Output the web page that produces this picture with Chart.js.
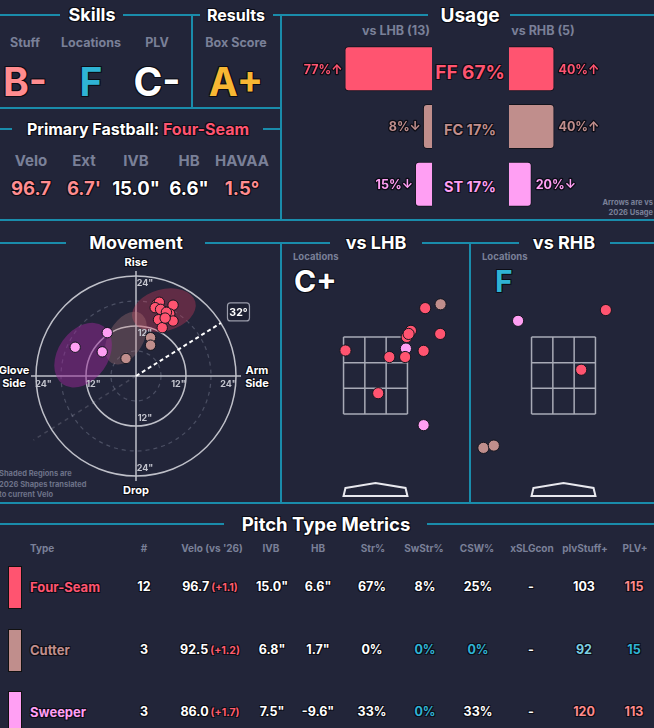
<!DOCTYPE html>
<html>
<head>
<meta charset="utf-8">
<script src="https://cdn.jsdelivr.net/npm/chart.js@4.4.1/dist/chart.umd.min.js"></script>
<style>
html, body { margin: 0; padding: 0; background: #222539; }
#board { position: relative; width: 654px; height: 728px; overflow: hidden; background: #222539;
  font-family: Inter, "Noto Sans", sans-serif; font-weight: 700; color: #fff; }
.t { position: absolute; white-space: nowrap; transform: translate(-50%, -50%); line-height: 1; }
.t.l { transform: translate(0, -50%); }
.t.r { transform: translate(-100%, -50%); }
.o { text-shadow: -1px -1px 0 #0c0d16, 1px -1px 0 #0c0d16, -1px 1px 0 #0c0d16, 1px 1px 0 #0c0d16; }
.hl { position: absolute; height: 2px; background: #1a8cab; }
.vl { position: absolute; width: 2px; background: #1a8cab; }
canvas { position: absolute; }
</style>
</head>
<body>
<div id="board"></div>
<script>
// ---- Skills / results
const skillLabels = ['Stuff', 'Locations', 'PLV'];
const skillGrades = ['B-', 'F', 'C-'];
const resultLabels = ['Box Score'];
const resultGrades = ['A+'];
const fbName = 'Four-Seam';
const fbLabels = ['Velo', 'Ext', 'IVB', 'HB', 'HAVAA'];
const fbValues = ['96.7', "6.7'", '15.0"', '6.6"', '1.5°'];

// ---- Usage (%)
const usagePitches = ['FF', 'FC', 'ST'];
const usageAll = [67, 17, 17];
const usageLHB = [77, 8, 15];
const usageRHB = [40, 40, 20];
const arrowLHB = ['↑', '↓', '↓'];
const arrowRHB = ['↑', '↑', '↓'];
const countLHB = 13;
const countRHB = 5;

// ---- Movement [HB, IVB] inches
const ffMove = [[5.0, 17.2], [5.6, 17.7], [4.6, 16.4], [6.6, 15.5], [5.9, 16.0], [8.9, 17.0],
  [8.1, 14.9], [5.4, 13.5], [8.9, 13.2], [6.3, 11.6], [7.3, 15.3], [7.0, 13.9]];
const fcMove = [[3.5, 9.2], [3.5, 7.4], [-2.4, 4.2]];
const stMove = [[-6.9, 10.4], [-14.6, 6.9], [-8.1, 5.8]];
const armAngle = 32;
// 2026 shape regions: [HB, IVB, semi-major, semi-minor, tilt deg]
const ffRegion = [6.7, 15.8, 7.8, 5.0, 15];
const fcRegion = [-2.4, 9.1, 6.9, 4.2, 60];
const stRegion = [-12.7, 5.0, 8.5, 6.0, 55];

// ---- Locations [plate x, plate z] ft
const lhbFF = [[1.29, 4.25], [0.92, 3.66], [0.81, 3.50], [0.86, 3.58], [1.68, 3.58], [-0.78, 3.15],
  [1.25, 3.14], [0.36, 2.98], [0.77, 2.98], [0.07, 2.04]];
const lhbFC = [[1.69, 4.35]];
const lhbST = [[0.79, 3.20], [1.25, 1.21]];
const rhbFF = [[1.10, 4.20], [0.46, 2.65]];
const rhbFC = [[-2.08, 0.62], [-1.81, 0.68]];
const rhbST = [[-1.18, 3.92]];
const locGradeLHB = 'C+';
const locGradeRHB = 'F';

// ---- Pitch type metrics
const tableCols = ['Type', '#', "Velo (vs '26)", 'IVB', 'HB', 'Str%', 'SwStr%', 'CSW%', 'xSLGcon', 'plvStuff+', 'PLV+'];
const pitchNames = ['Four-Seam', 'Cutter', 'Sweeper'];
const pitchCounts = [12, 3, 3];
const pitchVelo = ['96.7', '92.5', '86.0'];
const veloDiff = ['+1.1', '+1.2', '+1.7'];
const pitchIVB = ['15.0"', '6.8"', '7.5"'];
const pitchHB = ['6.6"', '1.7"', '-9.6"'];
const strPct = [67, 0, 33];
const swStrPct = [8, 0, 0];
const cswPct = [25, 0, 33];
const xslgcon = ['-', '-', '-'];
const plvStuff = [103, 92, 120];
const plvPlus = [115, 15, 113];

// ---- Styling
const pitchColors = ['#ff5470', '#c08e8c', '#ff9ff3'];
const gray = '#7a8098';
const salmon = '#ff8c8f';
const teal = '#2fb3d4';
const FONT = 'Inter, "Noto Sans", sans-serif';

const board = document.getElementById('board');

function txt(html, x, y, size, color, cls = '', extra = '') {
  const d = document.createElement('div');
  d.className = 't ' + cls;
  d.style.cssText = `left:${x}px;top:${y}px;font-size:${size}px;color:${color};${extra}`;
  d.innerHTML = html;
  board.appendChild(d);
  return d;
}
function hline(y, x1, x2) {
  const d = document.createElement('div');
  d.className = 'hl';
  d.style.cssText = `top:${y - 1}px;left:${x1}px;width:${x2 - x1}px`;
  board.appendChild(d);
}
function vline(x, y1, y2) {
  const d = document.createElement('div');
  d.className = 'vl';
  d.style.cssText = `left:${x - 1}px;top:${y1}px;height:${y2 - y1}px`;
  board.appendChild(d);
}
function makeCanvas(left, top, w, h) {
  const c = document.createElement('canvas');
  c.width = w; c.height = h;
  c.style.cssText = `left:${left}px;top:${top}px;width:${w}px;height:${h}px`;
  board.appendChild(c);
  return c;
}

// ---- Frame lines
hline(15, 0, 60); hline(15, 123, 200); hline(15, 273, 428); hline(15, 510, 654);
hline(108, 0, 281);
hline(129, 0, 12); hline(129, 263, 281);
hline(220, 0, 654);
hline(243, 0, 66); hline(243, 205, 330); hline(243, 422, 519); hline(243, 610, 654);
hline(503, 0, 654);
hline(524, 0, 224); hline(524, 427, 654);
vline(192, 15, 108);
vline(281, 15, 220); vline(281, 243, 503);
vline(470, 243, 503);

// ---- Top left text
txt('Skills', 92, 15, 18, '#fff', 'o');
txt('Results', 236, 15, 16, '#fff', 'o');
const skillX = [25, 91, 157];
const gradeCol = [salmon, teal, '#fff'];
skillLabels.forEach((s, i) => {
  txt(s, skillX[i], 43, 12.5, gray);
  txt(skillGrades[i], skillX[i], 81, 39, gradeCol[i], 'o');
});
txt(resultLabels[0], 236, 43, 12.5, gray);
txt(resultGrades[0], 236, 81, 39, '#f7b733', 'o');

txt(`Primary Fastball: <span style="color:${pitchColors[0]}">${fbName}</span>`, 138, 129, 16, '#fff', 'o');
const fbX = [31, 84, 136, 189, 242];
const fbCol = [salmon, salmon, '#fff', '#fff', salmon];
fbLabels.forEach((s, i) => {
  txt(s, fbX[i], 160, 15, gray);
  txt(fbValues[i], fbX[i], 188, 18.5, fbCol[i], 'o');
});

// ---- Usage text
txt('Usage', 470, 15, 19, '#fff', 'o');
txt(`vs LHB (${countLHB})`, 396, 31, 12.5, gray);
txt(`vs RHB (${countRHB})`, 543, 31, 12.5, gray);
const usageY = [72, 130, 187];
usagePitches.forEach((p, i) => {
  txt(`${p} ${usageAll[i]}%`, 470, usageY[i], i === 0 ? 19 : 14.5, pitchColors[i], 'o');
});
txt('Arrows are vs', 653, 203, 7.5, gray, 'r');
txt('2026 Usage', 653, 213, 7.5, gray, 'r');

function usageLabels(vals, arrows, side) {
  return {
    id: 'usageLabels' + side,
    afterDatasetsDraw(chart) {
      const ctx = chart.ctx;
      const meta = chart.getDatasetMeta(0);
      ctx.save();
      ctx.font = `700 12.5px ${FONT}`;
      ctx.textBaseline = 'middle';
      ctx.textAlign = side === 'L' ? 'right' : 'left';
      ctx.lineJoin = 'round';
      meta.data.forEach((bar, i) => {
        const x = side === 'L' ? bar.x - 2 : bar.x + 4;
        const s = vals[i] + '%' + arrows[i];
        ctx.lineWidth = 2.5;
        ctx.strokeStyle = '#0c0d16';
        ctx.strokeText(s, x, bar.y + 1);
        ctx.fillStyle = pitchColors[i];
        ctx.fillText(s, x, bar.y + 1);
      });
      ctx.restore();
    }
  };
}

function usageChart(canvas, vals, arrows, side) {
  return new Chart(canvas, {
    type: 'bar',
    data: {
      labels: usagePitches,
      datasets: [{
        data: vals,
        backgroundColor: pitchColors,
        borderColor: '#12131c',
        borderWidth: 1,
        borderRadius: 4,
        barPercentage: 0.78,
        categoryPercentage: 1
      }]
    },
    options: {
      indexAxis: 'y',
      responsive: false,
      animation: false,
      layout: { padding: 0, autoPadding: false },
      scales: {
        x: { display: false, min: 0, max: 125, reverse: side === 'L' },
        y: { display: false }
      },
      plugins: { legend: { display: false }, tooltip: { enabled: false } }
    },
    plugins: [usageLabels(vals, arrows, side)]
  });
}
usageChart(makeCanvas(290, 40, 142, 173), usageLHB, arrowLHB, 'L');
usageChart(makeCanvas(509, 40, 142, 173), usageRHB, arrowRHB, 'R');

// ---- Movement
txt('Movement', 136, 243, 18, '#fff', 'o');
txt('Rise', 136, 262, 11, '#fff', 'o');
txt('Drop', 136, 490, 11, '#fff', 'o');
txt('Glove', 14, 370, 11, '#fff', 'o');
txt('Side', 14, 383, 11, '#fff', 'o');
txt('Arm', 257, 370, 11, '#fff', 'o');
txt('Side', 257, 383, 11, '#fff', 'o');
txt('Shaded Regions are', -1, 474, 7.5, '#6d7288', 'l');
txt('2026 Shapes translated', -1, 485, 7.5, '#6d7288', 'l');
txt('to current Velo', -1, 495, 7.5, '#6d7288', 'l');

const regionColors = ['rgba(225,60,95,0.33)', 'rgba(190,130,130,0.30)', 'rgba(150,40,150,0.50)'];

const movementGrid = {
  id: 'movementGrid',
  beforeDatasetsDraw(chart) {
    const { ctx, scales: { x, y } } = chart;
    const cx = x.getPixelForValue(0), cy = y.getPixelForValue(0);
    const k = x.getPixelForValue(1) - cx;
    ctx.save();
    // dashed rings
    ctx.strokeStyle = '#4b4f63';
    ctx.lineWidth = 1.2;
    ctx.setLineDash([4, 4]);
    [6, 18].forEach(r => { ctx.beginPath(); ctx.arc(cx, cy, r * k, 0, Math.PI * 2); ctx.stroke(); });
    // faint opposite arm line
    const a = armAngle * Math.PI / 180;
    ctx.strokeStyle = 'rgba(190,190,205,0.22)';
    ctx.lineWidth = 1.5;
    ctx.beginPath(); ctx.moveTo(cx, cy);
    ctx.lineTo(x.getPixelForValue(-29 * Math.cos(a)), y.getPixelForValue(-29 * Math.sin(a)));
    ctx.stroke();
    ctx.setLineDash([]);
    // solid rings + axes
    ctx.strokeStyle = '#bfc0c9';
    ctx.lineWidth = 1.5;
    [12, 24].forEach(r => { ctx.beginPath(); ctx.arc(cx, cy, r * k, 0, Math.PI * 2); ctx.stroke(); });
    ctx.beginPath();
    ctx.moveTo(x.getPixelForValue(-25.2), cy); ctx.lineTo(x.getPixelForValue(25.2), cy);
    ctx.moveTo(cx, y.getPixelForValue(25.2)); ctx.lineTo(cx, y.getPixelForValue(-25.2));
    ctx.stroke();
    // regions
    [ffRegion, fcRegion, stRegion].forEach((rg, i) => {
      ctx.save();
      ctx.translate(x.getPixelForValue(rg[0]), y.getPixelForValue(rg[1]));
      ctx.rotate(-rg[4] * Math.PI / 180);
      ctx.beginPath();
      ctx.ellipse(0, 0, rg[2] * k, rg[3] * k, 0, 0, Math.PI * 2);
      ctx.fillStyle = regionColors[i];
      ctx.fill();
      ctx.restore();
    });
    // arm angle line
    ctx.strokeStyle = '#ffffff';
    ctx.lineWidth = 2;
    ctx.setLineDash([4, 3]);
    ctx.beginPath(); ctx.moveTo(cx, cy);
    ctx.lineTo(x.getPixelForValue(24 * Math.cos(a)), y.getPixelForValue(24 * Math.sin(a)));
    ctx.stroke();
    ctx.setLineDash([]);
    // ring labels
    ctx.font = `700 9px ${FONT}`;
    ctx.fillStyle = '#c4c5ce';
    ctx.textBaseline = 'middle';
    ctx.textAlign = 'center';
    [-22.2, -10.2, 10.2, 22.2].forEach(v => {
      const lab = Math.abs(Math.round(v / 12) * 12) + '"';
      ctx.fillText(lab, x.getPixelForValue(v), cy + 8);
      ctx.fillText(lab, cx + 9, y.getPixelForValue(v));
    });
    // angle box
    const bx = x.getPixelForValue(29 * Math.cos(a)), by = y.getPixelForValue(29 * Math.sin(a));
    ctx.fillStyle = '#1d2032';
    ctx.strokeStyle = '#9a9cab';
    ctx.lineWidth = 1.2;
    ctx.beginPath(); ctx.roundRect(bx - 11, by - 9, 22, 18, 3); ctx.fill(); ctx.stroke();
    ctx.fillStyle = '#fff';
    ctx.font = `700 10.5px ${FONT}`;
    ctx.fillText(armAngle + '°', bx, by + 0.5);
    ctx.restore();
  }
};

function pts(list) { return list.map(p => ({ x: p[0], y: p[1] })); }
function pitchSets(ff, fc, st, r) {
  return [ff, fc, st].map((d, i) => ({
    data: pts(d),
    backgroundColor: pitchColors[i],
    borderColor: '#15161f',
    borderWidth: 1,
    pointRadius: r
  }));
}

const kMove = 50 / 12;
new Chart(makeCanvas(0, 250, 281, 250), {
  type: 'scatter',
  data: { datasets: pitchSets(ffMove, fcMove, stMove, 5.2) },
  options: {
    responsive: false,
    animation: false,
    layout: { padding: 0, autoPadding: false },
    scales: {
      x: { display: false, min: -136 / kMove, max: 145 / kMove },
      y: { display: false, min: -124 / kMove, max: 126 / kMove }
    },
    plugins: { legend: { display: false }, tooltip: { enabled: false } }
  },
  plugins: [movementGrid]
});

// ---- Locations
txt('vs LHB', 376, 243, 18, '#fff', 'o');
txt('vs RHB', 564, 243, 18, '#fff', 'o');
txt('Locations', 293, 257, 9.5, gray, 'l');
txt(locGradeLHB, 294, 281, 30, '#fff', 'l o');
txt('Locations', 482, 257, 9.5, gray, 'l');
txt(locGradeRHB, 495, 281, 30, teal, 'l o');

const zoneX = [-0.83, 0.83];
const zoneZ = [1.5, 3.5];
const plateShape = [[-0.78, -0.42], [0, -0.29], [0.78, -0.42], [0.83, -0.63], [-0.83, -0.63]];

const zonePlugin = {
  id: 'zone',
  beforeDatasetsDraw(chart) {
    const { ctx, scales: { x, y } } = chart;
    ctx.save();
    ctx.strokeStyle = '#a8aab6';
    ctx.lineWidth = 1.5;
    ctx.beginPath();
    for (let i = 0; i <= 3; i++) {
      const xv = zoneX[0] + (zoneX[1] - zoneX[0]) * i / 3;
      const zv = zoneZ[0] + (zoneZ[1] - zoneZ[0]) * i / 3;
      ctx.moveTo(x.getPixelForValue(xv), y.getPixelForValue(zoneZ[0]));
      ctx.lineTo(x.getPixelForValue(xv), y.getPixelForValue(zoneZ[1]));
      ctx.moveTo(x.getPixelForValue(zoneX[0]), y.getPixelForValue(zv));
      ctx.lineTo(x.getPixelForValue(zoneX[1]), y.getPixelForValue(zv));
    }
    ctx.stroke();
    ctx.strokeStyle = '#e8e8ee';
    ctx.lineWidth = 2;
    ctx.beginPath();
    plateShape.forEach((p, i) => {
      const px = x.getPixelForValue(p[0]), py = y.getPixelForValue(p[1]);
      if (i === 0) ctx.moveTo(px, py); else ctx.lineTo(px, py);
    });
    ctx.closePath();
    ctx.stroke();
    ctx.restore();
  }
};

const kLoc = 38.5;
function locChart(canvas, ff, fc, st, leftPx) {
  return new Chart(canvas, {
    type: 'scatter',
    data: { datasets: pitchSets(ff, fc, st, 5.6) },
    options: {
      responsive: false,
      animation: false,
      layout: { padding: 0, autoPadding: false },
      scales: {
        x: { display: false, min: -leftPx / kLoc, max: (canvas.width - leftPx) / kLoc },
        y: { display: false, min: 1.5 - 89 / kLoc, max: 3.5 + 87 / kLoc }
      },
      plugins: { legend: { display: false }, tooltip: { enabled: false } }
    },
    plugins: [zonePlugin]
  });
}
locChart(makeCanvas(283, 250, 186, 253), lhbFF, lhbFC, lhbST, 92.5);
locChart(makeCanvas(472, 250, 182, 253), rhbFF, rhbFC, rhbST, 91.5);

// ---- Table
txt('Pitch Type Metrics', 326, 524, 18.5, '#fff', 'o');
const colX = [30, 144, 212, 271, 318, 373, 424, 477, 532, 585, 635];
tableCols.forEach((c, i) => txt(c, colX[i], 548, 10, gray, i === 0 ? 'l' : ''));

function pctColor(v) { return v === 0 ? teal : '#fff'; }
function plusColor(v) {
  if (v >= 110) return '#ff8a8a';
  if (v >= 95) return '#fff';
  if (v >= 85) return '#7ccfe2';
  return teal;
}
const rowY = [587, 650, 712];
pitchNames.forEach((n, i) => {
  const y = rowY[i];
  const sw = document.createElement('div');
  sw.style.cssText = `position:absolute;left:8px;top:${y - 21}px;width:12px;height:41px;background:${pitchColors[i]};border:1px solid #111;`;
  board.appendChild(sw);
  txt(n, 30, y, 13, pitchColors[i], 'l o');
  txt(pitchCounts[i], colX[1], y, 12.5, '#fff', 'o');
  txt(`${pitchVelo[i]}<span style="font-size:10.5px;color:#ff5c6c;margin-left:2px">(${veloDiff[i]})</span>`, 210, y, 12.5, '#fff', 'o');
  txt(pitchIVB[i], 272, y, 12.5, '#fff', 'o');
  txt(pitchHB[i], 318, y, 12.5, '#fff', 'o');
  txt(strPct[i] + '%', 372, y, 12.5, '#fff', 'o');
  txt(swStrPct[i] + '%', 425, y, 12.5, pctColor(swStrPct[i]), 'o');
  txt(cswPct[i] + '%', 478, y, 12.5, pctColor(cswPct[i]), 'o');
  txt(xslgcon[i], 531, y, 12.5, '#fff', 'o');
  txt(plvStuff[i], 584, y, 12.5, plusColor(plvStuff[i]), 'o');
  txt(plvPlus[i], 634, y, 12.5, plusColor(plvPlus[i]), 'o');
});
</script>
</body>
</html>
